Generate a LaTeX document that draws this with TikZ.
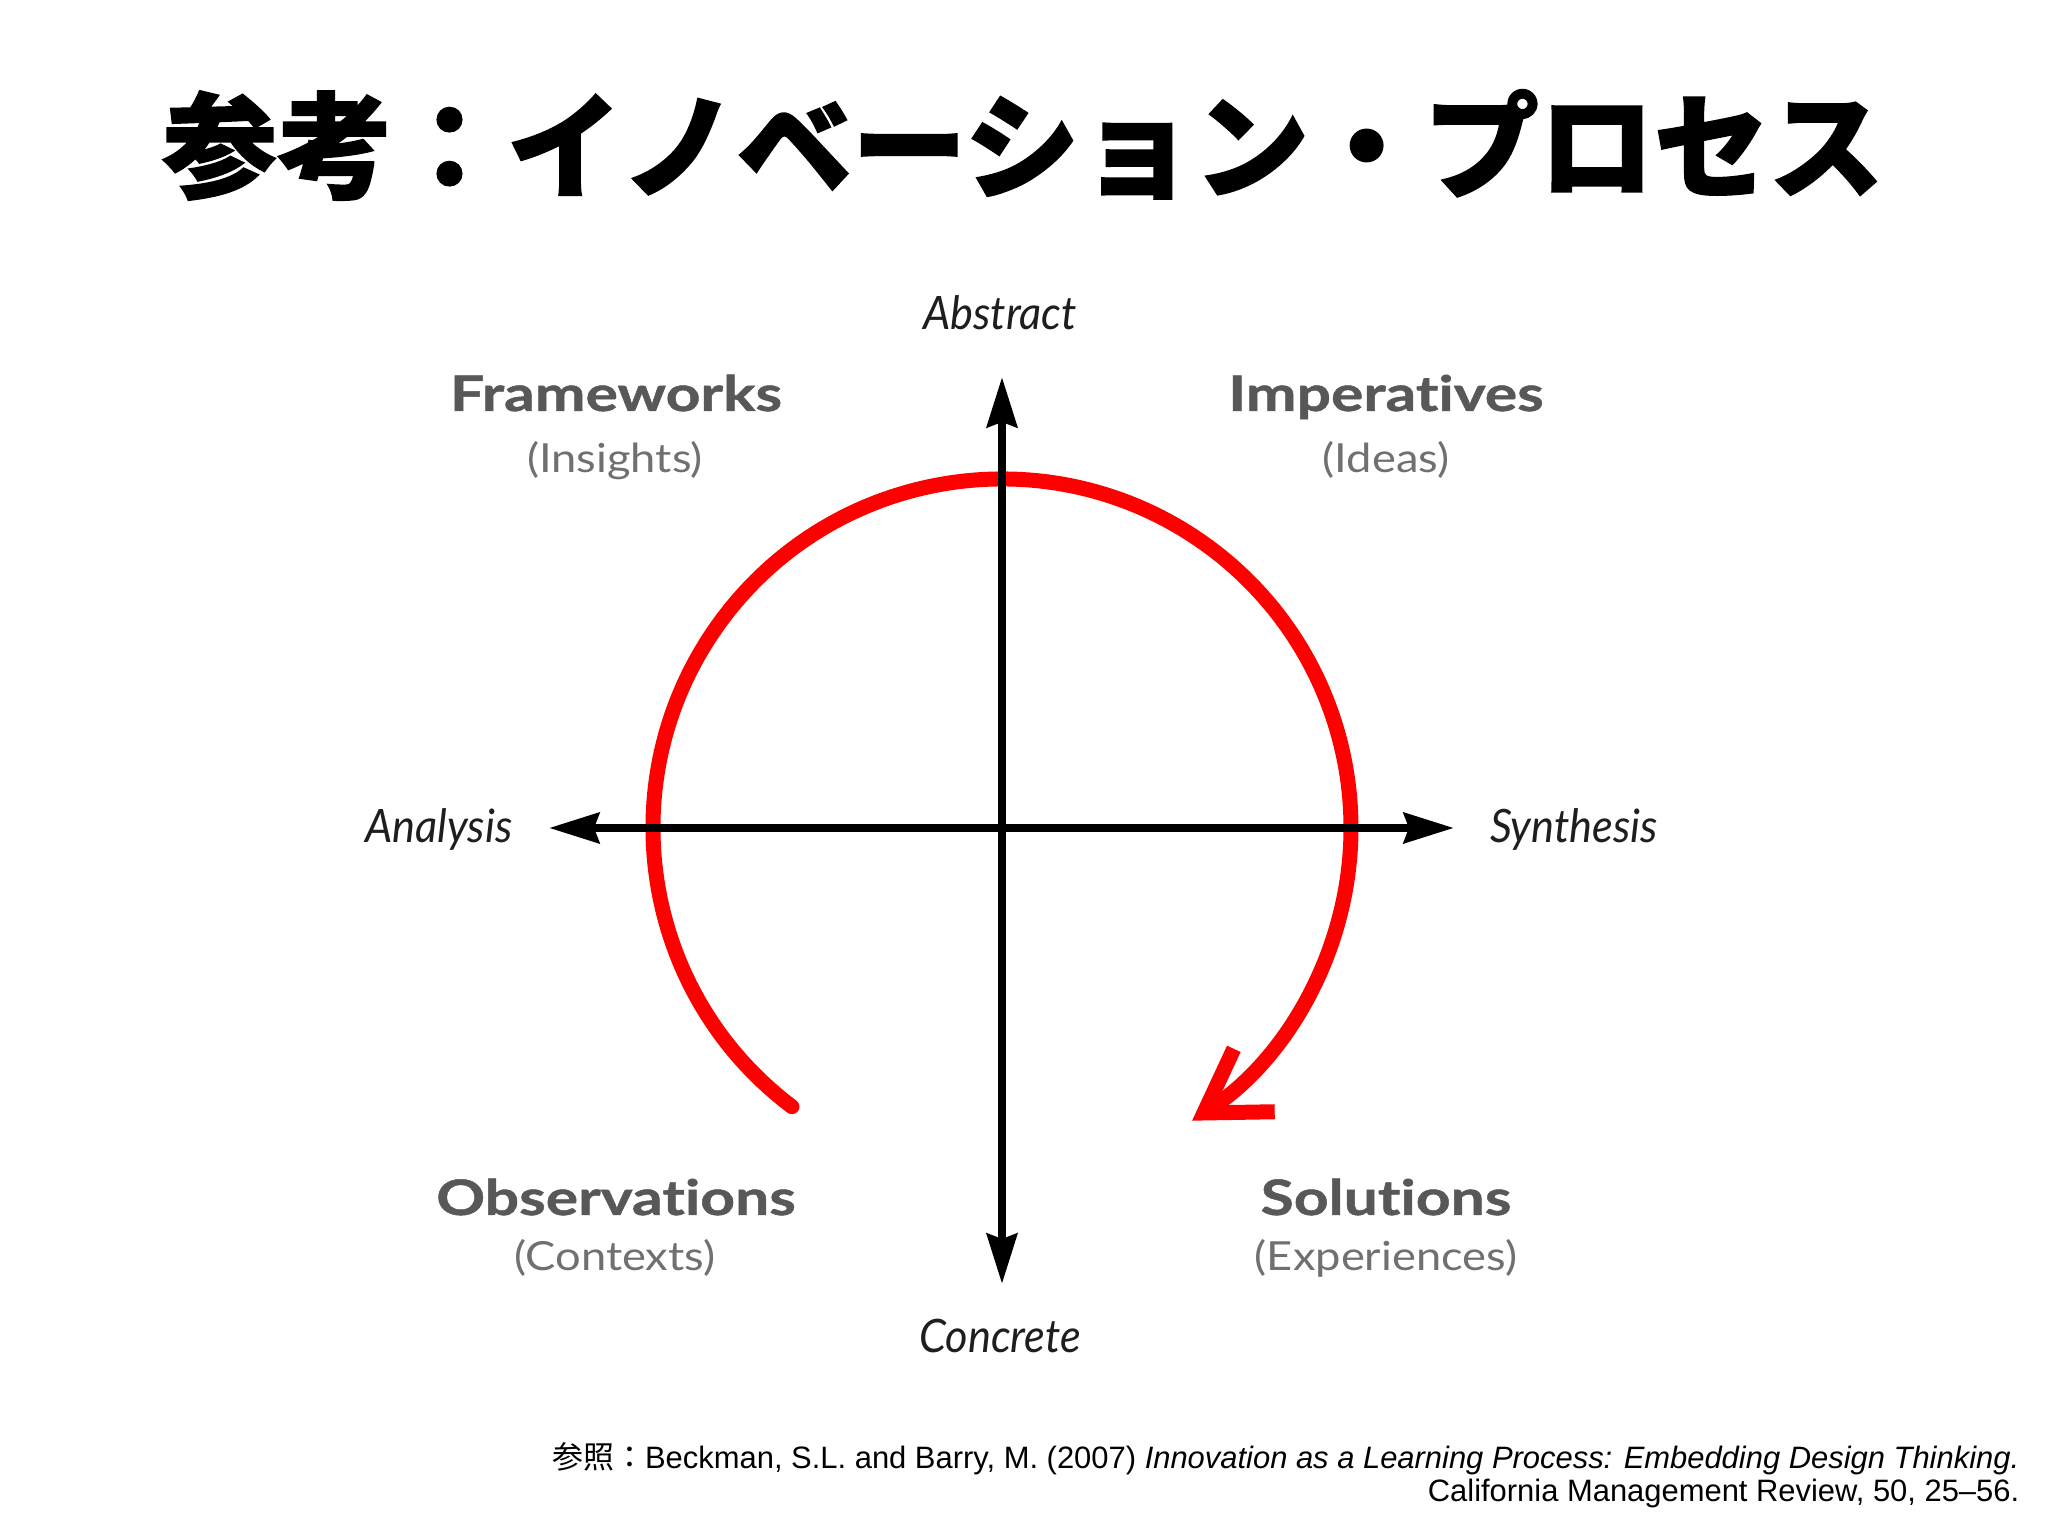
\documentclass[tikz,border=0pt]{standalone}
\usepackage{fontspec}
\usetikzlibrary{arrows.meta,calc}
\setmainfont{Liberation Sans}
\newfontfamily\cjk{Noto Sans CJK JP}
\newfontfamily\cjkt{Noto Sans CJK JP}[FakeBold=1.5]
\newfontfamily\labbold{Lato}[FakeStretch=1.24,FakeBold=1,Ligatures=NoCommon]
\newfontfamily\labreg{Lato}[FakeStretch=1.13,Ligatures=NoCommon]
\newfontfamily\labit{Lato}[FakeStretch=0.94,Ligatures=NoCommon]
\definecolor{qgray}{HTML}{585858}
\definecolor{sgray}{HTML}{707070}
\definecolor{agray}{HTML}{1E1E1E}
\begin{document}
\begin{tikzpicture}[x=1cm,y=1cm,
  ttl/.style={inner sep=0pt, font=\cjkt\bfseries\fontsize{32.7}{36}\selectfont},
  quad/.style={anchor=base, inner sep=0pt, text=qgray, font=\labbold\bfseries\fontsize{13.9}{16}\selectfont},
  sub/.style={anchor=base, inner sep=0pt, text=sgray, font=\labreg\fontsize{11.4}{13}\selectfont},
  axlab/.style={anchor=base, inner sep=0pt, text=agray, font=\labit\itshape\fontsize{13.1}{15}\selectfont},
  axisline/.style={line width=0.085cm, {Stealth[length=5mm,width=3mm,inset=0.5mm]}-{Stealth[length=5mm,width=3mm,inset=0.5mm]}},
  cyc/.style={draw=red, line width=0.15cm, line cap=round, -{Straight Barb[length=6mm,width=7.5mm]}},
  cite/.style={anchor=base east, inner sep=0pt, font=\fontsize{8.8}{11}\selectfont, text=black}
]
\useasboundingbox (0,0) rectangle (20.48,15.36);
\fill[white] (0,0) rectangle (20.48,15.36);

% title
\node[ttl] (title) at (10.23,13.91) {参考：イノベーション・プロセス};

% axis geometry
\coordinate (O) at (10.02,7.08);
\coordinate (topT) at (10.02,11.59);
\coordinate (botT) at (10.02,2.52);
\coordinate (leftT) at (5.49,7.08);
\coordinate (rightT) at (14.54,7.08);

% red cycle arc
\coordinate (arcStart) at ($(O)+(233:3.49)$);
\draw[cyc] (arcStart) arc[start angle=233, end angle=-57, radius=3.49];

% axes
\draw[axisline] (botT) -- (topT);
\draw[axisline] (leftT) -- (rightT);

% axis labels
\node[axlab] (abstract) at (10.00,12.06) {Abstract};
\node[axlab] (concrete) at (10.00,1.83) {Concrete};
\node[axlab] (analysis) at (4.39,6.935) {Analysis};
\node[axlab] (synthesis) at (15.74,6.935) {Synthesis};

% quadrant labels
\node[quad] (frameworks) at (6.16,11.25) {Frameworks};
\node[sub] (insights) at (6.15,10.63) {(Insights)};
\node[quad] (imperatives) at (13.86,11.25) {Imperatives};
\node[sub] (ideas) at (13.86,10.63) {(Ideas)};
\node[quad] (observations) at (6.16,3.21) {Observations};
\node[sub] (contexts) at (6.15,2.65) {(Contexts)};
\node[quad] (solutions) at (13.86,3.21) {Solutions};
\node[sub] (experiences) at (13.86,2.65) {(Experiences)};

% citation
\node[cite] (cite1) at (20.20,0.67) {{\cjk 参照：}Beckman, S.L. and Barry, M. (2007) \textit{Innovation as a Learning Process: Embedding Design Thinking.}};
\node[cite] (cite2) at (20.20,0.34) {California Management Review, 50, 25--56.};
\end{tikzpicture}
\end{document}
